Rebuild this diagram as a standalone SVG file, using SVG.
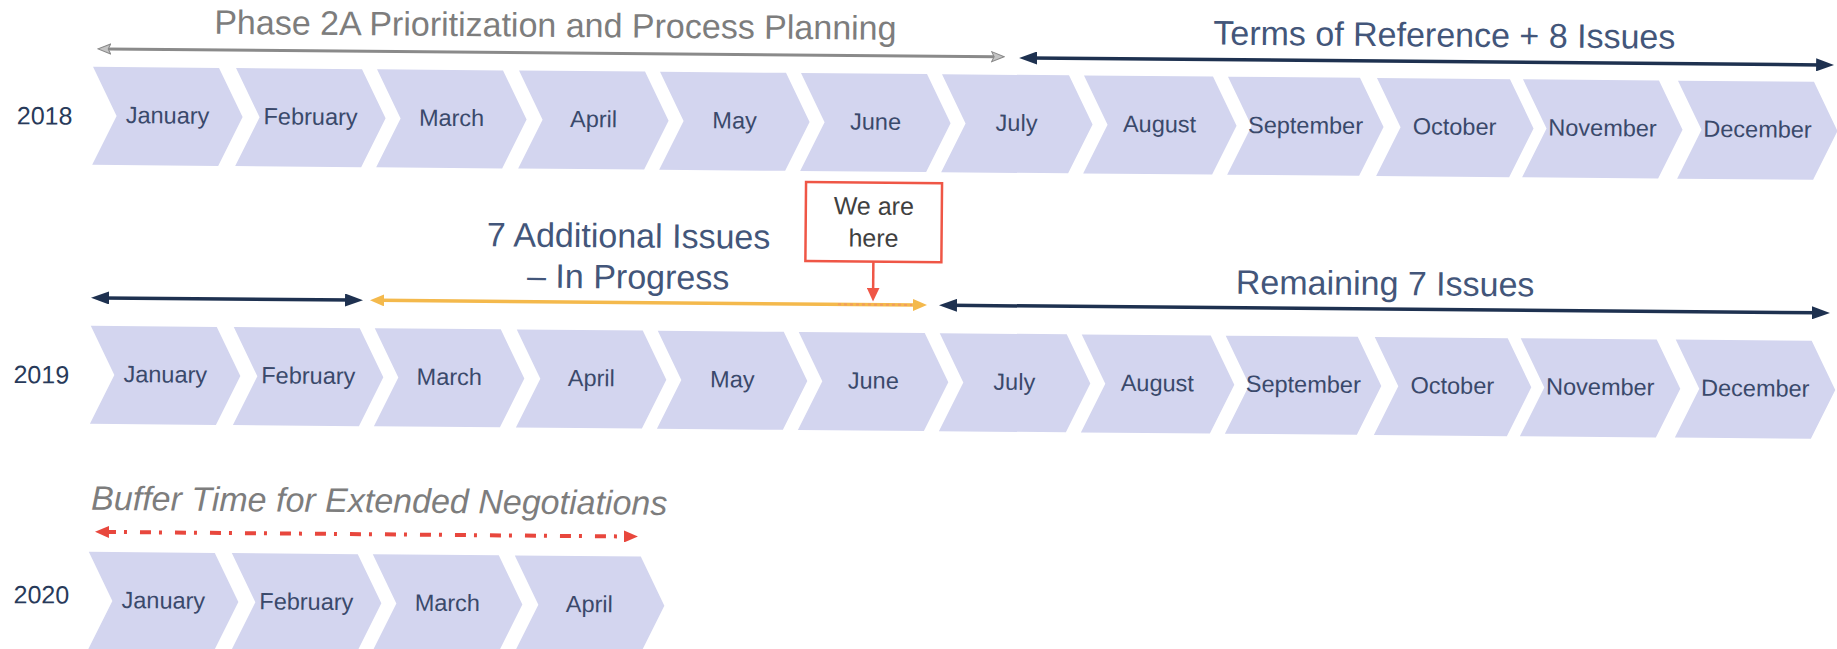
<svg xmlns="http://www.w3.org/2000/svg" width="1837" height="649" viewBox="0 0 1837 649">
<style>
.chev{fill:#d3d5ef}
.mon{font-family:"Liberation Sans",Arial,sans-serif;font-size:23.5px;fill:#3a496b;text-anchor:middle}
.yr{font-family:"Liberation Sans",Arial,sans-serif;font-size:25px;fill:#283a5a;text-anchor:middle}
.ttl{font-family:"Liberation Sans",Arial,sans-serif;font-size:34px;text-anchor:middle}
.gray{fill:#7d7d7d}
.navyt{fill:#43567a}
.here{font-family:"Liberation Sans",Arial,sans-serif;font-size:25px;fill:#404040;text-anchor:middle}
.ln-gray{stroke:#8a8a8a;stroke-width:3;fill:none}
.ln-navy{stroke:#1e3150;stroke-width:3.5;fill:none}
.ln-yel{stroke:#f4b94c;stroke-width:3.5;fill:none}
.ln-red{stroke:#ef5646;stroke-width:2.5;fill:none}
.ln-redd{stroke:#e8473d;stroke-width:4;fill:none;stroke-dasharray:11 8 3 13}
</style>
<defs>
<marker id="mGray" markerUnits="userSpaceOnUse" viewBox="0 0 14 12" markerWidth="14" markerHeight="12" refX="4" refY="6" orient="auto-start-reverse"><path d="M0.5,1 L13,6 L0.5,11 L3,6 Z" fill="#c4c4c4" stroke="#888" stroke-width="1"/></marker>
<marker id="mNavy" markerUnits="userSpaceOnUse" viewBox="0 0 18 13" markerWidth="18" markerHeight="13" refX="6" refY="6.5" orient="auto-start-reverse"><path d="M0,0 L18,6.5 L0,13 Z" fill="#1e3150"/></marker>
<marker id="mYel" markerUnits="userSpaceOnUse" viewBox="0 0 14 12" markerWidth="14" markerHeight="12" refX="4" refY="6" orient="auto-start-reverse"><path d="M0,0 L14,6 L0,12 Z" fill="#f4b94c"/></marker>
<marker id="mRed" markerUnits="userSpaceOnUse" viewBox="0 0 14 13" markerWidth="14" markerHeight="13" refX="2" refY="6.5" orient="auto"><path d="M0,0 L14,6.5 L0,13 Z" fill="#ef5646"/></marker>
<marker id="mRedD" markerUnits="userSpaceOnUse" viewBox="0 0 14 12" markerWidth="14" markerHeight="12" refX="4" refY="6" orient="auto-start-reverse"><path d="M0,0 L14,6 L0,12 Z" fill="#e8473d"/></marker>
</defs>
<rect width="1837" height="649" fill="#ffffff"/>
<g transform="rotate(0.5 0 300)">

<!-- Row 2018 -->
<g id="year-2018"><text class="yr" x="43" y="124">2018</text></g>
<g id="r1-jan"><path class="chev" d="M91,66 H217 L241,115 L217,164 H91 L115,115 Z"/><text class="mon" x="166" y="122">January</text></g>
<g id="r1-feb"><path class="chev" d="M234,66 H360 L384,115 L360,164 H234 L258,115 Z"/><text class="mon" x="309" y="122">February</text></g>
<g id="r1-mar"><path class="chev" d="M375,66 H501 L525,115 L501,164 H375 L399,115 Z"/><text class="mon" x="450" y="122">March</text></g>
<g id="r1-apr"><path class="chev" d="M517,66 H643 L667,115 L643,164 H517 L541,115 Z"/><text class="mon" x="592" y="122">April</text></g>
<g id="r1-may"><path class="chev" d="M658,66 H784 L808,115 L784,164 H658 L682,115 Z"/><text class="mon" x="733" y="122">May</text></g>
<g id="r1-jun"><path class="chev" d="M799,66 H925 L949,115 L925,164 H799 L823,115 Z"/><text class="mon" x="874" y="122">June</text></g>
<g id="r1-jul"><path class="chev" d="M940,66 H1067 L1091,115 L1067,164 H940 L964,115 Z"/><text class="mon" x="1015" y="122">July</text></g>
<g id="r1-aug"><path class="chev" d="M1082,66 H1211 L1235,115 L1211,164 H1082 L1106,115 Z"/><text class="mon" x="1158" y="122">August</text></g>
<g id="r1-sep"><path class="chev" d="M1226,66 H1358 L1382,115 L1358,164 H1226 L1250,115 Z"/><text class="mon" x="1304" y="122">September</text></g>
<g id="r1-oct"><path class="chev" d="M1375,66 H1508 L1532,115 L1508,164 H1375 L1399,115 Z"/><text class="mon" x="1453" y="122">October</text></g>
<g id="r1-nov"><path class="chev" d="M1521,66 H1657 L1681,115 L1657,164 H1521 L1545,115 Z"/><text class="mon" x="1601" y="122">November</text></g>
<g id="r1-dec"><path class="chev" d="M1676,66 H1812 L1836,115 L1812,164 H1676 L1700,115 Z"/><text class="mon" x="1756" y="122">December</text></g>

<!-- Row 2019 -->
<g id="year-2019"><text class="yr" x="42" y="383">2019</text></g>
<g id="r2-jan"><path class="chev" d="M91,325 H217 L241,374 L217,423 H91 L115,374 Z"/><text class="mon" x="166" y="381">January</text></g>
<g id="r2-feb"><path class="chev" d="M234,325 H360 L384,374 L360,423 H234 L258,374 Z"/><text class="mon" x="309" y="381">February</text></g>
<g id="r2-mar"><path class="chev" d="M375,325 H501 L525,374 L501,423 H375 L399,374 Z"/><text class="mon" x="450" y="381">March</text></g>
<g id="r2-apr"><path class="chev" d="M517,325 H643 L667,374 L643,423 H517 L541,374 Z"/><text class="mon" x="592" y="381">April</text></g>
<g id="r2-may"><path class="chev" d="M658,325 H784 L808,374 L784,423 H658 L682,374 Z"/><text class="mon" x="733" y="381">May</text></g>
<g id="r2-jun"><path class="chev" d="M799,325 H925 L949,374 L925,423 H799 L823,374 Z"/><text class="mon" x="874" y="381">June</text></g>
<g id="r2-jul"><path class="chev" d="M940,325 H1067 L1091,374 L1067,423 H940 L964,374 Z"/><text class="mon" x="1015" y="381">July</text></g>
<g id="r2-aug"><path class="chev" d="M1082,325 H1211 L1235,374 L1211,423 H1082 L1106,374 Z"/><text class="mon" x="1158" y="381">August</text></g>
<g id="r2-sep"><path class="chev" d="M1226,325 H1358 L1382,374 L1358,423 H1226 L1250,374 Z"/><text class="mon" x="1304" y="381">September</text></g>
<g id="r2-oct"><path class="chev" d="M1375,325 H1508 L1532,374 L1508,423 H1375 L1399,374 Z"/><text class="mon" x="1453" y="381">October</text></g>
<g id="r2-nov"><path class="chev" d="M1521,325 H1657 L1681,374 L1657,423 H1521 L1545,374 Z"/><text class="mon" x="1601" y="381">November</text></g>
<g id="r2-dec"><path class="chev" d="M1676,325 H1812 L1836,374 L1812,423 H1676 L1700,374 Z"/><text class="mon" x="1756" y="381">December</text></g>

<!-- Row 2020 -->
<g id="year-2020"><text class="yr" x="44" y="603">2020</text></g>
<g id="r3-jan"><path class="chev" d="M91,551 H217 L241,600 L217,649 H91 L115,600 Z"/><text class="mon" x="166" y="607">January</text></g>
<g id="r3-feb"><path class="chev" d="M234,551 H360 L384,600 L360,649 H234 L258,600 Z"/><text class="mon" x="309" y="607">February</text></g>
<g id="r3-mar"><path class="chev" d="M375,551 H501 L525,600 L501,649 H375 L399,600 Z"/><text class="mon" x="450" y="607">March</text></g>
<g id="r3-apr"><path class="chev" d="M517,551 H643 L667,600 L643,649 H517 L541,600 Z"/><text class="mon" x="592" y="607">April</text></g>

<!-- Phase labels -->
<g id="label-phase2a"><text class="ttl gray" x="553" y="32">Phase 2A Prioritization and Process Planning</text></g>
<g id="label-tor"><text class="ttl navyt" x="1442" y="34">Terms of Reference + 8 Issues</text></g>
<g id="label-7add"><text class="ttl navyt" x="628" y="242">7 Additional Issues</text><text class="ttl navyt" x="628" y="283">– In Progress</text></g>
<g id="label-remaining"><text class="ttl navyt" x="1385" y="283">Remaining 7 Issues</text></g>
<g id="label-buffer"><text class="ttl gray" x="381" y="509" font-style="italic" fill="#707070">Buffer Time for Extended Negotiations</text></g>
<g id="we-are-here"><rect x="805" y="175" width="136" height="79" fill="#ffffff" stroke="#ef5646" stroke-width="2.5"/><text class="here" x="873" y="207">We are</text><text class="here" x="873" y="239">here</text></g>

<!-- Connectors -->
<g id="connectors">
<path class="ln-gray" d="M105,48 H993" marker-start="url(#mGray)" marker-end="url(#mGray)"/>
<path class="ln-navy" d="M1029,49 H1820" marker-start="url(#mNavy)" marker-end="url(#mNavy)"/>
<path class="ln-navy" d="M103,297 H351" marker-start="url(#mNavy)" marker-end="url(#mNavy)"/>
<path class="ln-yel" d="M380,297 H917" marker-start="url(#mYel)" marker-end="url(#mYel)"/>
<path d="M838,297 H912" stroke="#f08a6a" stroke-width="2" stroke-dasharray="3 3" fill="none" opacity="0.6"/>
<path class="ln-navy" d="M951,297 H1818" marker-start="url(#mNavy)" marker-end="url(#mNavy)"/>
<path class="ln-red" d="M873,254 V282" marker-end="url(#mRed)"/>
<path class="ln-redd" d="M107,531 H630" marker-start="url(#mRedD)" marker-end="url(#mRedD)"/>
</g>
</g>
</svg>
